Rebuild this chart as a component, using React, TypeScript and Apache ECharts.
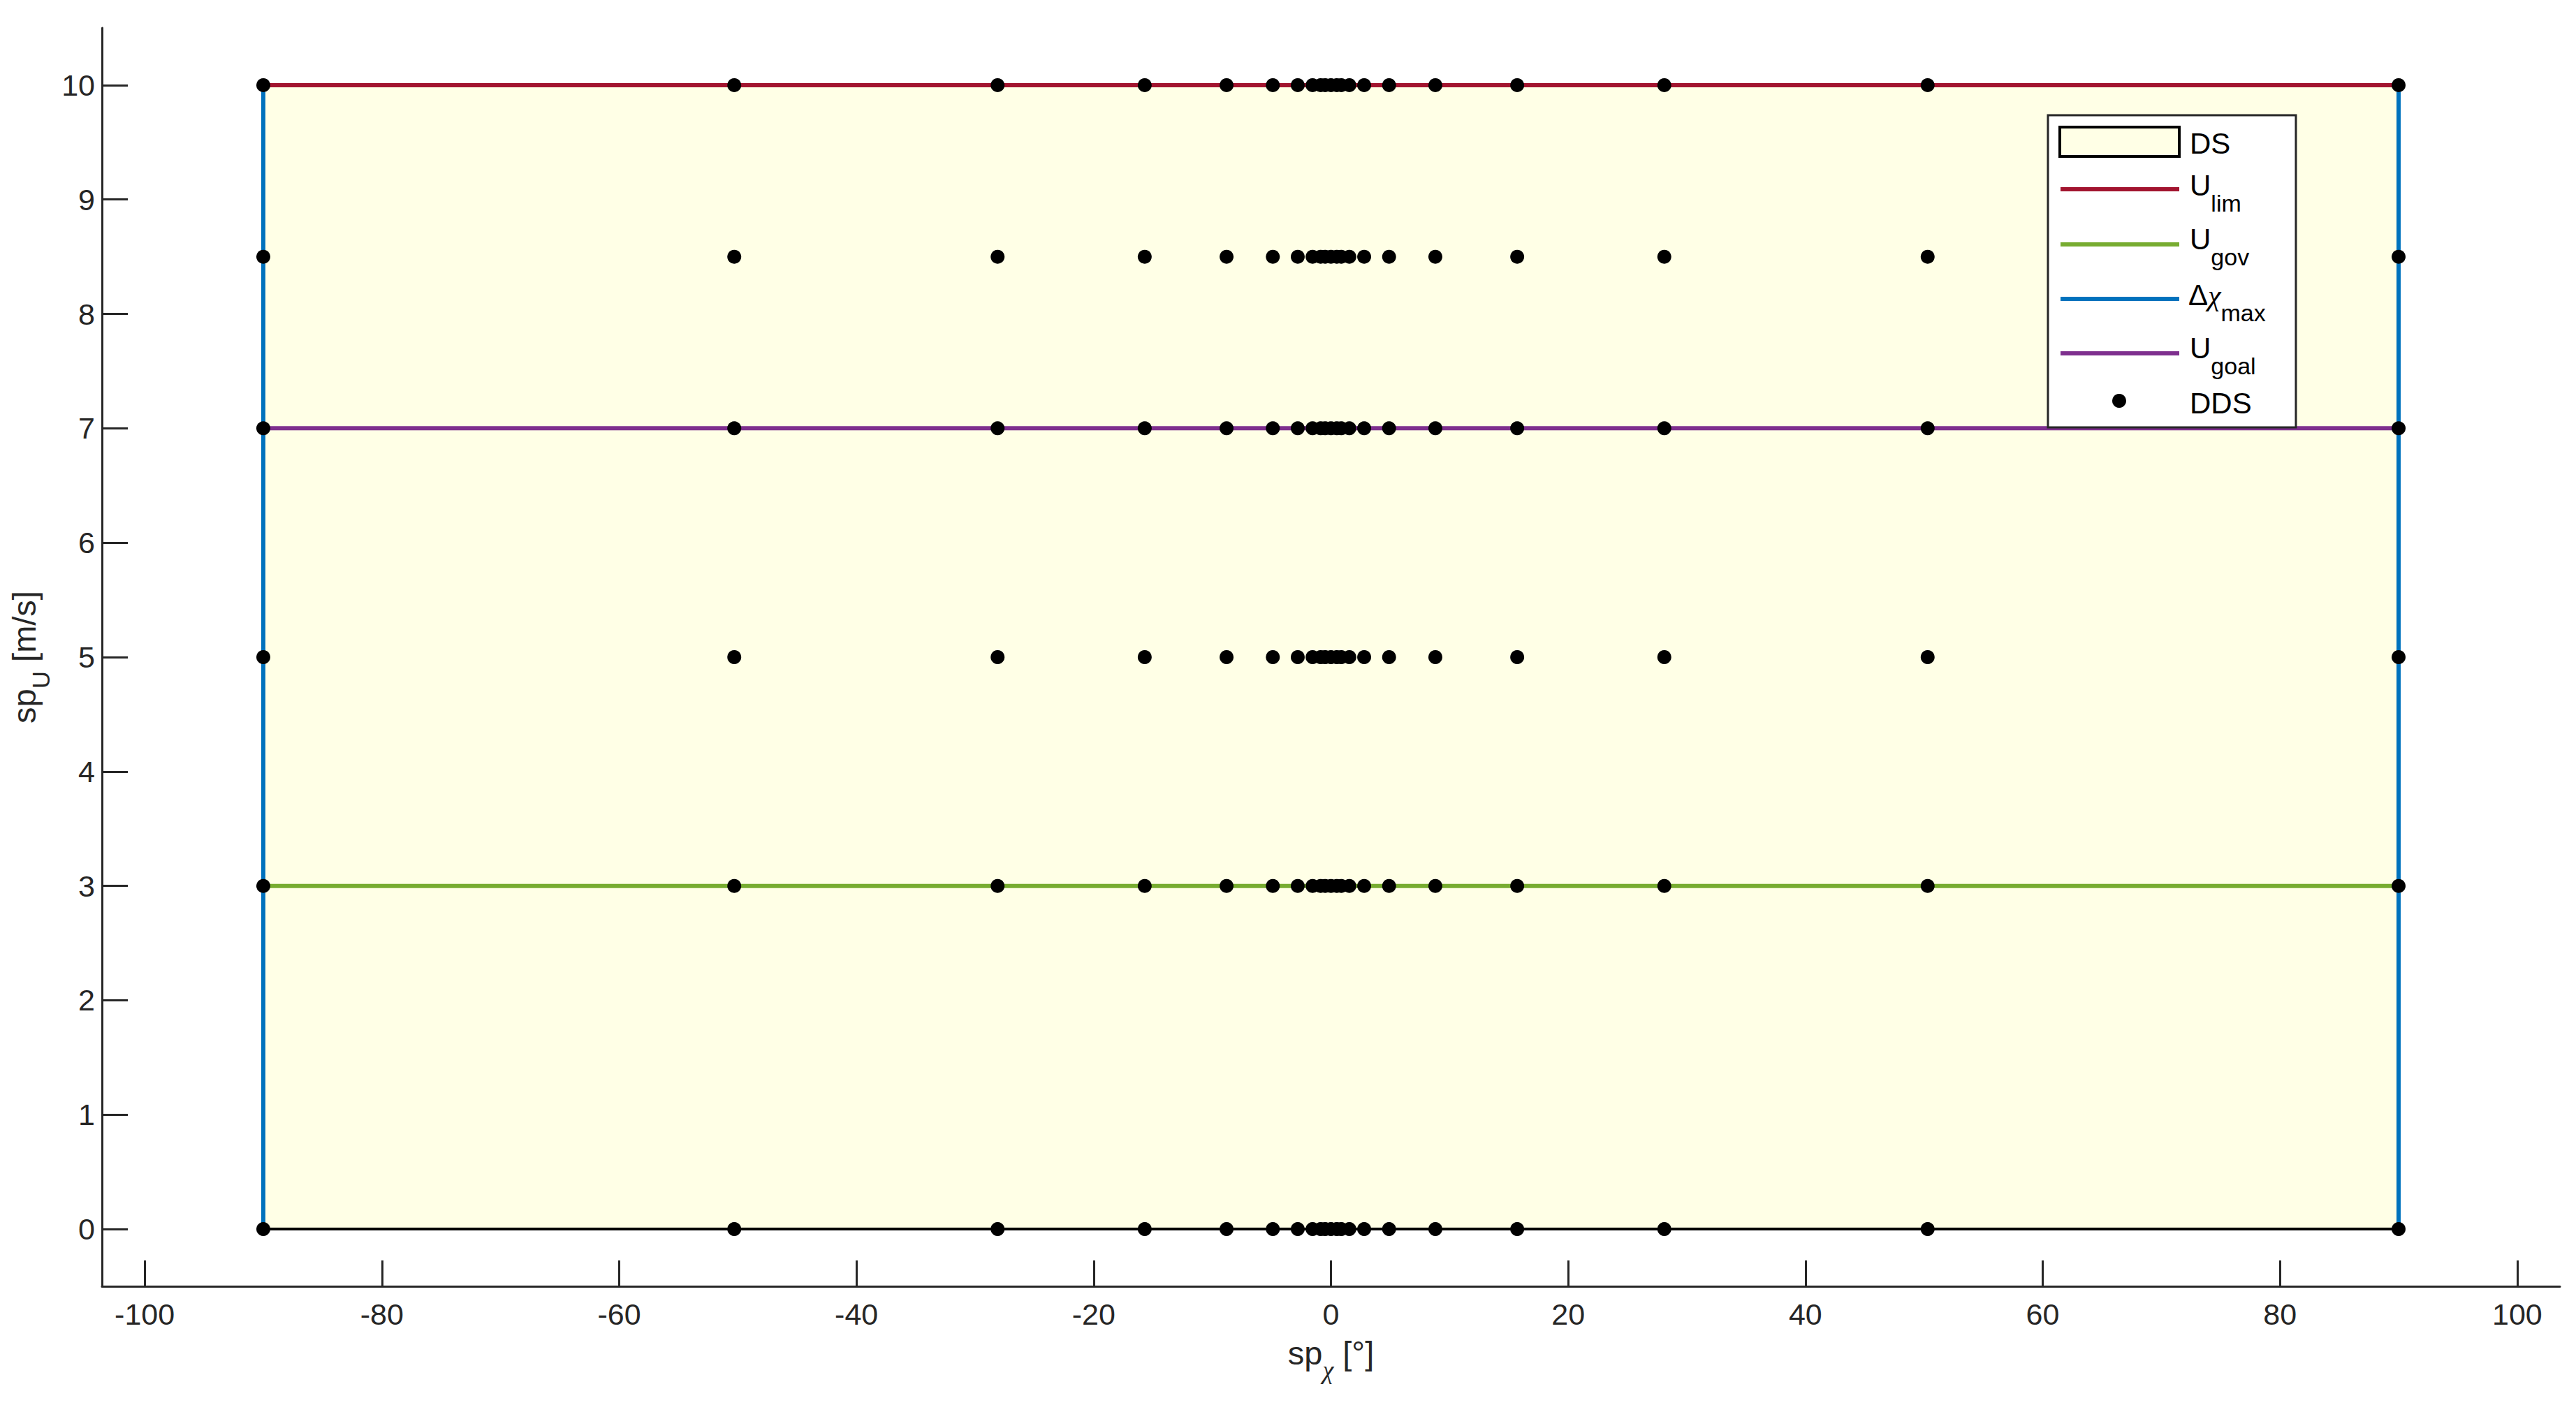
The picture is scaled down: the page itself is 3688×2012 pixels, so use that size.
import React, { useEffect, useRef } from 'react';
import * as echarts from 'echarts';

// ---- data ----
const xTicks = [-100, -80, -60, -40, -20, 0, 20, 40, 60, 80, 100];
const yTicks = [0, 1, 2, 3, 4, 5, 6, 7, 8, 9, 10];

// DS region (rectangle corners)
const dsX = [-90, 90, 90, -90];
const dsY = [0, 0, 10, 10];

// constraint lines
const uLimX = [-90, 90];
const uLimY = [10, 10];
const uGovX = [-90, 90];
const uGovY = [3, 3];
const chiLeftX = [-90, -90];
const chiRightX = [90, 90];
const chiY = [0, 10];
const uGoalX = [-90, 90];
const uGoalY = [7, 7];

// DDS grid points
const ddsX = [-90, -50.3, -28.1, -15.7, -8.8, -4.9, -2.8, -1.55, -0.87, -0.49, 0, 0.49, 0.87, 1.55, 2.8, 4.9, 8.8, 15.7, 28.1, 50.3, 90];
const ddsY = [0, 3, 5, 7, 8.5, 10];

const SANS = 'Liberation Sans';
const SERIF = 'Liberation Serif';
const AX = '#262626';

const pairs = (xs: number[], ys: number[]) => xs.map((x, i) => [x, ys[i]]);

export default function App() {
  const ref = useRef<HTMLDivElement>(null);
  useEffect(() => {
    if (!ref.current) return;
    const chart = echarts.init(ref.current, undefined, { renderer: 'svg' });

    const ddsData: number[][] = [];
    ddsY.forEach((y) => ddsX.forEach((x) => ddsData.push([x, y])));

    const lineSeries = (name: string, data: number[][], color: string) => ({
      type: 'line',
      name,
      data,
      symbol: 'none',
      silent: true,
      lineStyle: { color, width: 6 },
      itemStyle: { color },
      z: 3,
    });

    const mainTok = (fs: number) => ({ fontFamily: SANS, fontSize: fs, lineHeight: fs, verticalAlign: 'top', color: '#000' });
    const chiTok = (fs: number) => ({ fontFamily: SERIF, fontStyle: 'italic', fontSize: fs, lineHeight: fs, verticalAlign: 'top', color: '#000' });
    const subTok = (fs: number, pad: number, fam = SANS, italic = false) => ({
      fontFamily: fam,
      fontStyle: italic ? 'italic' : 'normal',
      fontSize: fs,
      verticalAlign: 'top',
      padding: [pad, 0, 0, 0],
      color: '#000',
    });

    const legendRich = { m: mainTok(42), c: chiTok(42), s: subTok(34, 29) };
    const legX = 3135;
    const Z = 100;

    const option: any = {
      animation: false,
      textStyle: { fontFamily: SANS },
      grid: { left: 146, right: 23, top: 40, bottom: 170, containLabel: false, outerBoundsMode: 'none' },
      xAxis: {
        type: 'value',
        min: -103.6,
        max: 103.6,
        splitLine: { show: false },
        axisLine: { show: true, onZero: false, lineStyle: { color: AX, width: 3 } },
        axisTick: { show: true, inside: true, length: 37, customValues: xTicks, lineStyle: { color: AX, width: 3 } },
        axisLabel: { show: true, customValues: xTicks, fontSize: 43, color: AX, margin: 18, fontFamily: SANS },
        name: '{m|sp}{s|χ}{m| [°]}',
        nameLocation: 'middle',
        nameGap: 72,
        nameTextStyle: {
          color: AX,
          rich: {
            m: { ...mainTok(47), color: AX },
            s: { ...subTok(36, 30, SERIF, true), color: AX },
          },
        },
      },
      yAxis: {
        type: 'value',
        min: -0.5,
        max: 10.5,
        splitLine: { show: false },
        axisLine: { show: true, onZero: false, lineStyle: { color: AX, width: 3 } },
        axisTick: { show: true, inside: true, length: 37, customValues: yTicks, lineStyle: { color: AX, width: 3 } },
        axisLabel: { show: true, customValues: yTicks, fontSize: 43, color: AX, margin: 10, fontFamily: SANS },
        name: '{m|sp}{s|U}{m| [m/s]}',
        nameLocation: 'middle',
        nameRotate: 90,
        nameGap: 70,
        nameTextStyle: {
          color: AX,
          rich: {
            m: { ...mainTok(47), color: AX },
            s: { ...subTok(35, 30), color: AX },
          },
        },
      },
      series: [
        {
          type: 'custom',
          name: 'DS',
          silent: true,
          data: [[dsX[0], dsY[0]]],
          z: 1,
          renderItem: (_params: any, api: any) => {
            const pts = dsX.map((x, i) => api.coord([x, dsY[i]]));
            return {
              type: 'polygon',
              shape: { points: pts },
              style: { fill: '#FFFFE6', stroke: '#000000', lineWidth: 4 },
            };
          },
        },
        lineSeries('U_lim', pairs(uLimX, uLimY), '#A2142F'),
        lineSeries('U_gov', pairs(uGovX, uGovY), '#77AC30'),
        lineSeries('Δχ_max', pairs(chiLeftX, chiY), '#0072BD'),
        lineSeries('Δχ_max', pairs(chiRightX, chiY), '#0072BD'),
        lineSeries('U_goal', pairs(uGoalX, uGoalY), '#7E2F8E'),
        {
          type: 'scatter',
          name: 'DDS',
          data: ddsData,
          symbol: 'circle',
          symbolSize: 20,
          silent: true,
          itemStyle: { color: '#000000', opacity: 1 },
          z: 5,
        },
      ],
      graphic: {
        elements: [
          { type: 'rect', z: Z, silent: true, shape: { x: 2932, y: 165, width: 355, height: 447 }, style: { fill: '#ffffff', stroke: AX, lineWidth: 3 } },
          { type: 'rect', z: Z + 1, silent: true, shape: { x: 2949, y: 182, width: 171, height: 42 }, style: { fill: '#FFFFE6', stroke: '#000000', lineWidth: 4 } },
          { type: 'text', z: Z + 1, silent: true, style: { x: legX, y: 205, text: 'DS', fontFamily: SANS, fontSize: 42, fill: '#000000', verticalAlign: 'middle', align: 'left' } },
          { type: 'line', z: Z + 1, silent: true, shape: { x1: 2950, y1: 271, x2: 3120, y2: 271 }, style: { stroke: '#A2142F', lineWidth: 6 } },
          { type: 'text', z: Z + 1, silent: true, style: { x: legX, y: 244.5, text: '{m|U}{s|lim}', rich: legendRich, verticalAlign: 'top', align: 'left' } },
          { type: 'line', z: Z + 1, silent: true, shape: { x1: 2950, y1: 350, x2: 3120, y2: 350 }, style: { stroke: '#77AC30', lineWidth: 6 } },
          { type: 'text', z: Z + 1, silent: true, style: { x: legX, y: 321.5, text: '{m|U}{s|gov}', rich: legendRich, verticalAlign: 'top', align: 'left' } },
          { type: 'line', z: Z + 1, silent: true, shape: { x1: 2950, y1: 428, x2: 3120, y2: 428 }, style: { stroke: '#0072BD', lineWidth: 6 } },
          { type: 'text', z: Z + 1, silent: true, style: { x: legX - 2, y: 401.5, text: '{m|Δ}{c|χ}{s|max}', rich: legendRich, verticalAlign: 'top', align: 'left' } },
          { type: 'line', z: Z + 1, silent: true, shape: { x1: 2950, y1: 506, x2: 3120, y2: 506 }, style: { stroke: '#7E2F8E', lineWidth: 6 } },
          { type: 'text', z: Z + 1, silent: true, style: { x: legX, y: 477.5, text: '{m|U}{s|goal}', rich: legendRich, verticalAlign: 'top', align: 'left' } },
          { type: 'circle', z: Z + 1, silent: true, shape: { cx: 3034, cy: 574, r: 10 }, style: { fill: '#000000' } },
          { type: 'text', z: Z + 1, silent: true, style: { x: legX, y: 577, text: 'DDS', fontFamily: SANS, fontSize: 42, fill: '#000000', verticalAlign: 'middle', align: 'left' } },
        ],
      },
    };

    chart.setOption(option);
    return () => chart.dispose();
  }, []);

  return <div ref={ref} style={{ position: 'absolute', left: 0, top: 0, width: 3688, height: 2012, background: '#ffffff' }} />;
}
